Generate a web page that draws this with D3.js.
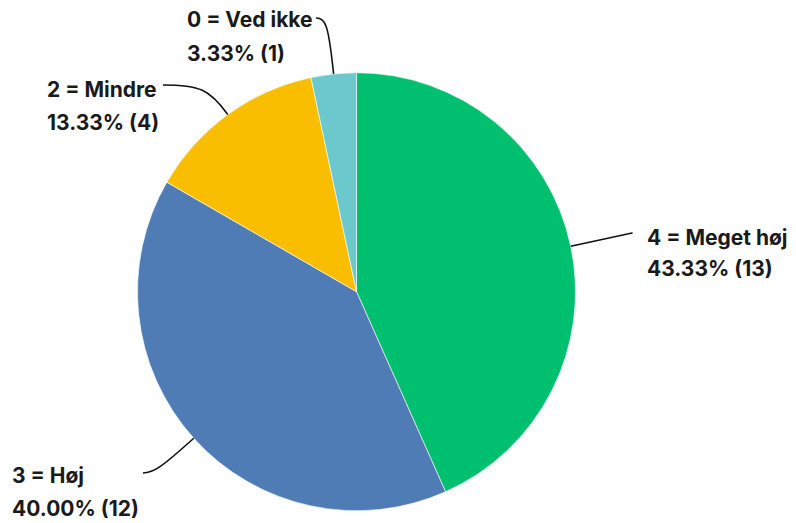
<!DOCTYPE html>
<html>
<head>
<meta charset="utf-8">
<script src="https://cdn.jsdelivr.net/npm/d3@7"></script>
<style>
  html, body { margin: 0; padding: 0; background: #fff; }
  svg { display: block; }
  text { font-family: Inter, "Noto Sans", sans-serif; font-weight: 700; fill: #1a1a1a; }
</style>
</head>
<body>
<svg id="chart" width="796" height="523"></svg>
<script>
// ---- data ----
const categories = ["4 = Meget høj", "3 = Høj", "2 = Mindre", "0 = Ved ikke"];
const counts = [13, 12, 4, 1];
const percentLabels = ["43.33%", "40.00%", "13.33%", "3.33%"];
const colors = ["#00BF6F", "#507CB6", "#F9BE00", "#6BC8CD"];

// ---- layout ----
const W = 796, H = 523;
const cx = 356.5, cy = 291.7, R = 219;
const fontSize = 21;
// label placement: x, first baseline, second baseline, anchor, leader-line end
const labelLayout = [
  { x: 647, y1: 245, y2: 276, anchor: "start", ex: 632, ey: 233 },
  { x: 12,  y1: 483, y2: 516, anchor: "start", ex: 143, ey: 473 },
  { x: 47,  y1: 97,  y2: 130, anchor: "start", ex: 163, ey: 85 },
  { x: 187, y1: 27,  y2: 61,  anchor: "start", ex: 316, ey: 18 }
];

const svg = d3.select("#chart");
const data = categories.map((c, i) => ({ cat: c, value: counts[i], pct: percentLabels[i], color: colors[i], lay: labelLayout[i] }));

const pie = d3.pie().value(d => d.value).sort(null);
const arc = d3.arc().innerRadius(0).outerRadius(R);
const arcs = pie(data);

const g = svg.append("g").attr("transform", `translate(${cx},${cy})`);
g.selectAll("path.slice")
  .data(arcs)
  .enter().append("path")
  .attr("class", "slice")
  .attr("d", arc)
  .attr("fill", d => d.data.color)
  .attr("stroke", "#ffffff")
  .attr("stroke-width", 0.6);

// leader lines
arcs.forEach(a => {
  const mid = (a.startAngle + a.endAngle) / 2;
  const dx = Math.sin(mid), dy = -Math.cos(mid);
  const p0 = [cx + R * dx, cy + R * dy];
  const L = a.data.lay;
  let t = Math.abs(dy) > 1e-6 ? (L.ey - p0[1]) / dy : 40;
  if (t < 0) t = 0;
  let c = [p0[0] + t * dx, p0[1] + t * dy];
  const path = d3.path();
  path.moveTo(p0[0], p0[1]);
  path.bezierCurveTo(
    p0[0] + (c[0] - p0[0]) * 0.85, p0[1] + (c[1] - p0[1]) * 0.85,
    L.ex + (c[0] - L.ex) * 0.85, L.ey + (c[1] - L.ey) * 0.85,
    L.ex, L.ey);
  svg.append("path")
    .attr("d", path.toString())
    .attr("fill", "none")
    .attr("stroke", "#111")
    .attr("stroke-width", 1.6);
});

// labels
const lab = svg.selectAll("g.label").data(data).enter().append("g").attr("class", "label");
lab.append("text")
  .attr("x", d => d.lay.x).attr("y", d => d.lay.y1)
  .attr("text-anchor", d => d.lay.anchor)
  .attr("font-size", fontSize)
  .text(d => d.cat);
lab.append("text")
  .attr("x", d => d.lay.x).attr("y", d => d.lay.y2)
  .attr("text-anchor", d => d.lay.anchor)
  .attr("font-size", fontSize)
  .text(d => `${d.pct} (${d.value})`);
</script>
</body>
</html>
